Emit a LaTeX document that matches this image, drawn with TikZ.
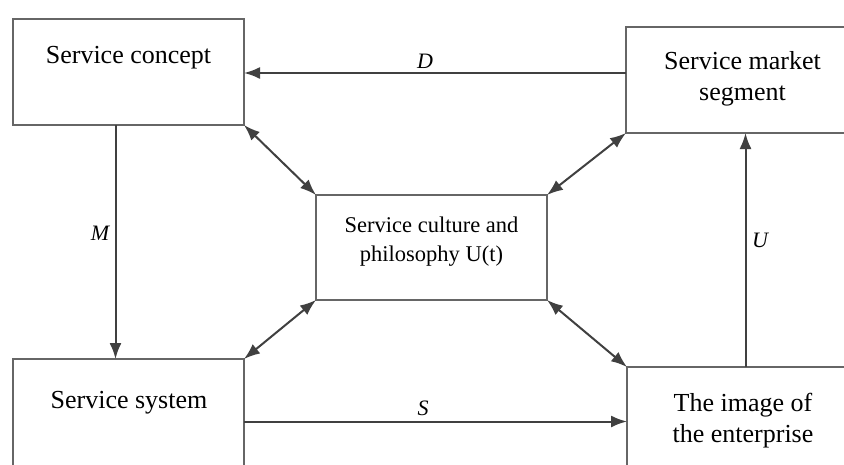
\documentclass[tikz,border=0pt]{standalone}
\usepackage{fontspec}
\setmainfont{Liberation Serif}
\usetikzlibrary{arrows.meta}
\begin{document}
\begin{tikzpicture}[x=1pt,y=-1pt,
  boxst/.style={draw=black!60,line width=2pt,fill=white},
  txt/.style={font=\fontsize{26}{31}\selectfont,align=center,inner sep=0pt},
  ctxt/.style={font=\fontsize{22.5}{29}\selectfont,align=center,inner sep=0pt},
  lbl/.style={font=\fontsize{22}{26}\selectfont\itshape,inner sep=0pt},
  conn/.style={draw=black!75,line width=2pt,-{Latex[length=16pt,width=12pt]}},
  dconn/.style={draw=black!75,line width=2pt,{Latex[length=16pt,width=12pt]}-{Latex[length=16pt,width=12pt]}}]
\useasboundingbox (0,0) rectangle (844,464);
\clip (0,0) rectangle (844,464);
\fill[white] (0,0) rectangle (844,464);
% boxes
\draw[boxst] (13,19) rectangle (244,125);
\draw[boxst] (626,27) rectangle (860,133);
\draw[boxst] (316,195) rectangle (547,300);
\draw[boxst] (13,359) rectangle (244,480);
\draw[boxst] (627,367) rectangle (860,480);
% named anchors
\coordinate (sc-br) at (244,125);
\coordinate (sm-bl) at (626,133);
\coordinate (cu-tl) at (316,195);
\coordinate (cu-tr) at (547,195);
\coordinate (cu-bl) at (316,300);
\coordinate (cu-br) at (547,300);
\coordinate (ss-tr) at (244,359);
\coordinate (im-tl) at (627,367);
\coordinate (d-start) at (626,73);
\coordinate (d-end) at (244,73);
\coordinate (m-start) at (115.5,125);
\coordinate (m-end) at (115.5,359);
\coordinate (u-start) at (745.5,367);
\coordinate (u-end) at (745.5,133);
\coordinate (s-start) at (244,421.5);
\coordinate (s-end) at (627,421.5);
% texts
\node[txt,anchor=base] (sc) at (128.5,63) {Service concept};
\node[txt,anchor=base] (sm) at (742.5,100) {Service market\\segment};
\node[ctxt] (cu) at (431.5,242) {Service culture and\\philosophy U(t)};
\node[txt,anchor=base] (ss) at (129,408) {Service system};
\node[txt,anchor=base] (im) at (743,442) {The image of\\the enterprise};
% connectors
\draw[conn] (d-start) -- (d-end);
\draw[conn] (m-start) -- (m-end);
\draw[conn] (u-start) -- (u-end);
\draw[conn] (s-start) -- (s-end);
\draw[dconn] (sc-br) -- (cu-tl);
\draw[dconn] (sm-bl) -- (cu-tr);
\draw[dconn] (cu-bl) -- (ss-tr);
\draw[dconn] (cu-br) -- (im-tl);
% labels
\node[lbl] (ld) at (425,61) {D};
\node[lbl] (lm) at (100,233) {M};
\node[lbl] (lu) at (760,240) {U};
\node[lbl] (ls) at (423,408) {S};
\end{tikzpicture}
\end{document}
